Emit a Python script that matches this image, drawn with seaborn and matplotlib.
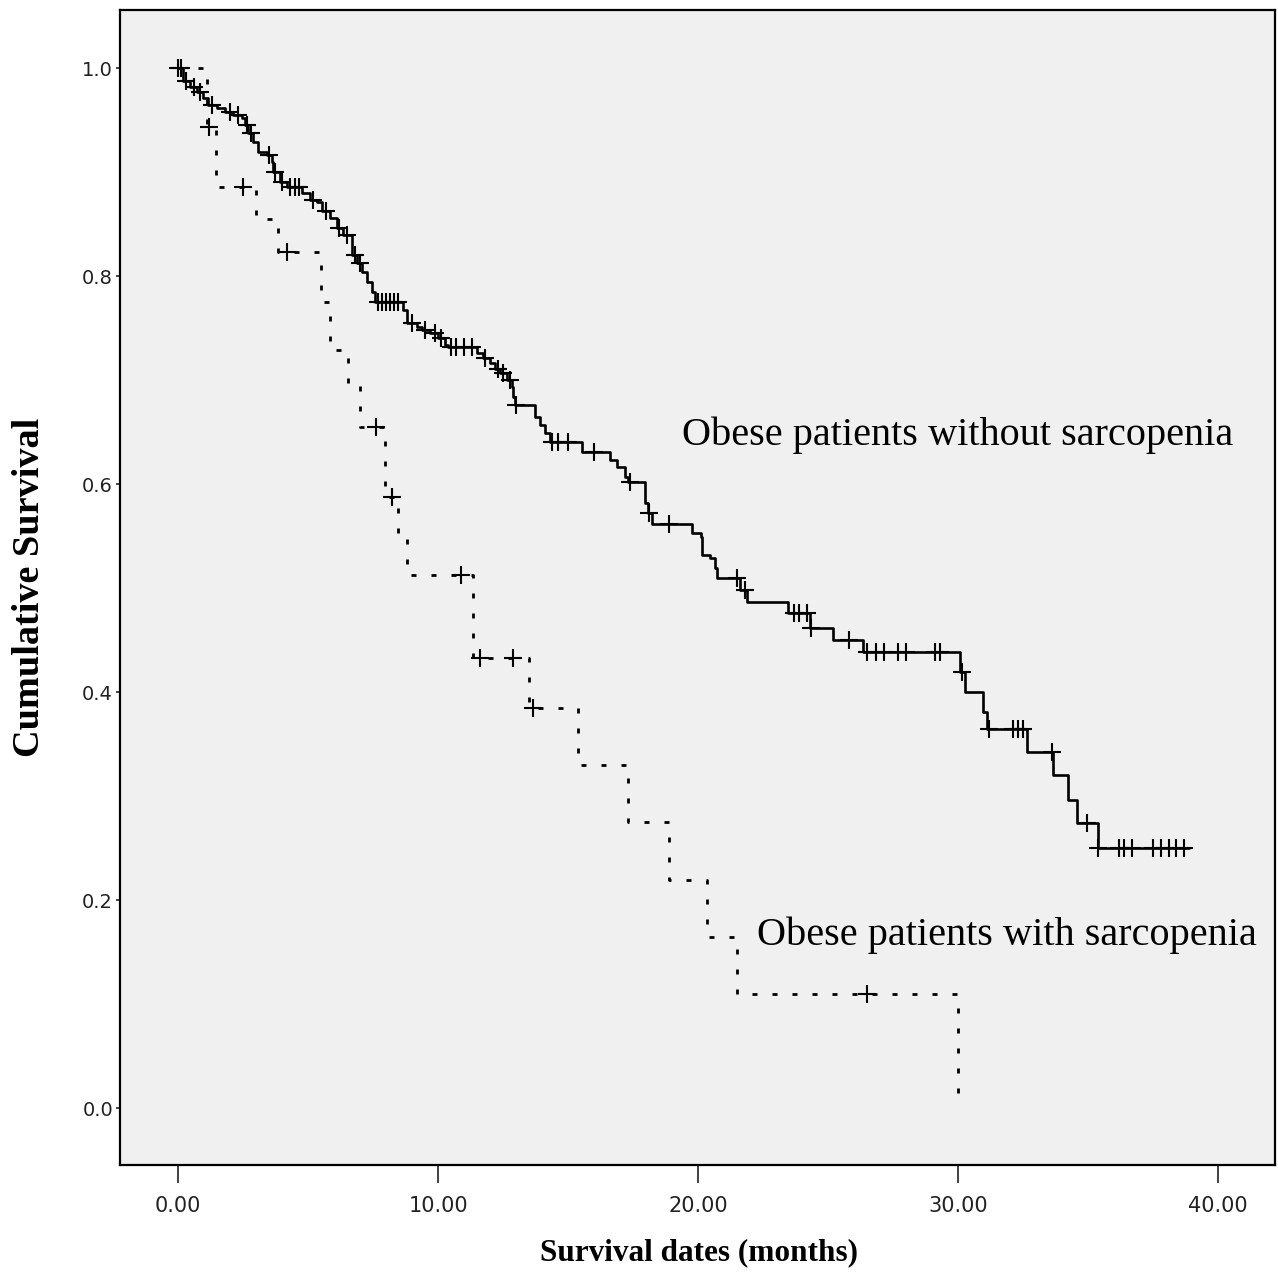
import numpy as np
import pandas as pd
import matplotlib
matplotlib.use("Agg")
import matplotlib.pyplot as plt
from matplotlib.ticker import FormatStrFormatter
import seaborn as sns

# ── Kaplan-Meier curves ───────────────────────────────────────────────────
# time in months, survival after each drop; last entry = end of follow-up
no_sarc_time = [0.0, 0.19, 0.46, 0.73, 0.96, 1.15, 1.5, 1.8, 2.1, 2.46, 2.58, 2.7,
                2.88, 3.08, 3.42, 3.6, 3.65, 3.92, 4.19, 4.77, 5.08, 5.35, 5.54,
                5.85, 6.1, 6.35, 6.7, 6.88, 7.08, 7.27, 7.46, 7.58, 8.65, 8.8, 9.2,
                9.4, 9.7, 10.0, 10.27, 10.4, 11.5, 11.73, 12.0, 12.2, 12.38, 12.65,
                12.85, 12.9, 12.96, 13.73, 13.92, 14.12, 14.3, 15.54, 16.6, 16.9,
                17.2, 17.3, 17.96, 18.08, 18.23, 19.77, 20.1, 20.15, 20.46, 20.65,
                20.73, 21.6, 21.9, 23.46, 24.3, 25.2, 26.35, 30.08, 30.27, 30.96,
                31.1, 32.65, 33.65, 34.23, 34.58, 35.38, 38.9]
no_sarc_surv = [1.0, 0.988, 0.982, 0.977, 0.971, 0.964, 0.962, 0.958, 0.955, 0.952,
                0.945, 0.938, 0.929, 0.919, 0.916, 0.910, 0.900, 0.890, 0.886, 0.880,
                0.873, 0.871, 0.863, 0.856, 0.846, 0.839, 0.820, 0.813, 0.804, 0.794,
                0.785, 0.775, 0.767, 0.755, 0.751, 0.748, 0.745, 0.740, 0.734, 0.732,
                0.726, 0.721, 0.716, 0.711, 0.707, 0.700, 0.693, 0.684, 0.676, 0.664,
                0.657, 0.649, 0.640, 0.631, 0.623, 0.616, 0.607, 0.602, 0.582, 0.572,
                0.562, 0.553, 0.549, 0.532, 0.529, 0.519, 0.510, 0.498, 0.487, 0.476,
                0.462, 0.450, 0.438, 0.419, 0.400, 0.381, 0.364, 0.342, 0.320, 0.296,
                0.274, 0.250, 0.250]
no_sarc_censor = [0.0, 0.12, 0.3, 0.6, 0.85, 1.3, 2.0, 2.3, 2.65, 2.8, 3.5, 3.75,
                  4.0, 4.3, 4.5, 4.65, 5.2, 5.7, 6.2, 6.5, 6.8, 7.0, 7.7, 7.85, 8.0,
                  8.15, 8.3, 8.45, 9.0, 9.5, 9.9, 10.1, 10.5, 10.7, 11.0, 11.3, 11.8,
                  12.3, 12.5, 12.75, 13.0, 14.4, 14.6, 15.0, 16.0, 17.4, 18.1, 18.9,
                  21.5, 21.8, 23.7, 23.9, 24.2, 24.35, 25.8, 26.5, 26.85, 27.15, 27.7,
                  28.0, 29.1, 29.3, 30.15, 31.2, 32.1, 32.3, 32.5, 33.6, 34.96, 35.4,
                  36.2, 36.4, 36.7, 37.5, 37.8, 38.1, 38.4, 38.7]

sarc_time = [0.0, 1.1, 1.45, 3.0, 3.85, 5.5, 5.85, 6.55, 7.0, 7.95, 8.45, 8.8,
             11.35, 13.5, 15.4, 17.3, 18.9, 20.35, 21.5, 30.0]
sarc_surv = [1.0, 0.943, 0.886, 0.855, 0.823, 0.775, 0.729, 0.697, 0.655, 0.588,
             0.55, 0.513, 0.433, 0.385, 0.330, 0.275, 0.219, 0.164, 0.110, 0.0]
sarc_censor = [1.2, 2.5, 4.2, 7.6, 8.25, 10.9, 11.6, 12.9, 13.65, 26.5]

label_no_sarc = "Obese patients without sarcopenia"
label_sarc = "Obese patients with sarcopenia"


def censor_frame(times, surv, cens):
    times, surv = np.asarray(times), np.asarray(surv)
    idx = np.searchsorted(times, cens, side="right") - 1
    return pd.DataFrame({"time": cens, "surv": surv[idx]})


no_sarc = pd.DataFrame({"time": no_sarc_time, "surv": no_sarc_surv})
sarc = pd.DataFrame({"time": sarc_time, "surv": sarc_surv})
no_sarc_c = censor_frame(no_sarc_time, no_sarc_surv, no_sarc_censor)
sarc_c = censor_frame(sarc_time, sarc_surv, sarc_censor)

# ── Plot ──────────────────────────────────────────────────────────────────
sns.set_theme(style="white")
plt.rcParams["font.family"] = ["DejaVu Sans"]
plt.rcParams["text.color"] = "black"

fig = plt.figure(figsize=(12.78, 12.76), dpi=100)
ax = fig.add_axes([120 / 1278, 111 / 1276, 1155 / 1278, 1155 / 1276])
ax.set_facecolor("#f0f0f0")

sns.lineplot(data=no_sarc, x="time", y="surv", drawstyle="steps-post",
             color="black", lw=1.9, estimator=None, sort=False, ax=ax)
sns.lineplot(data=sarc, x="time", y="surv", drawstyle="steps-post",
             color="black", lw=2.0, linestyle=(0, (1.8, 5.4)),
             estimator=None, sort=False, ax=ax)
sns.scatterplot(data=no_sarc_c, x="time", y="surv", marker="+", s=150,
                color="black", linewidth=1.5, ax=ax, zorder=3)
sns.scatterplot(data=sarc_c, x="time", y="surv", marker="+", s=150,
                color="black", linewidth=1.5, ax=ax, zorder=3)

ax.text(19.4, 0.647, label_no_sarc, fontsize=29, family="Liberation Serif",
        color="black", ha="left", va="center")
ax.text(22.27, 0.166, label_sarc, fontsize=29, family="Liberation Serif",
        color="black", ha="left", va="center")

ax.set_xlim(-2.23, 42.19)
ax.set_ylim(-0.0548, 1.0558)
ax.set_xticks([0, 10, 20, 30, 40])
ax.set_yticks([0.0, 0.2, 0.4, 0.6, 0.8, 1.0])
ax.xaxis.set_major_formatter(FormatStrFormatter("%.2f"))
ax.yaxis.set_major_formatter(FormatStrFormatter("%.1f"))
ax.tick_params(axis="x", direction="out", length=13, width=1.2, pad=9,
               labelsize=15, colors="#222222", bottom=True)
ax.tick_params(axis="y", direction="out", length=3, width=1.2, pad=2,
               labelsize=14, colors="#222222", left=True)

for side in ["top", "bottom", "left", "right"]:
    ax.spines[side].set_visible(True)
    ax.spines[side].set_color("black")
    ax.spines[side].set_linewidth(1.6)

ax.set_xlabel("Survival dates (months)", fontsize=22.5, fontweight="bold",
              family="Liberation Serif", color="black")
ax.set_ylabel("Cumulative Survival", fontsize=27.5, fontweight="bold",
              family="Liberation Serif", color="black")
ax.xaxis.set_label_coords(0.501, -0.076)
ax.xaxis.label.set_va("center")
ax.yaxis.set_label_coords(-0.078, 0.50)
ax.yaxis.label.set_va("center")

fig.savefig("out.png", dpi=100, facecolor="white")
